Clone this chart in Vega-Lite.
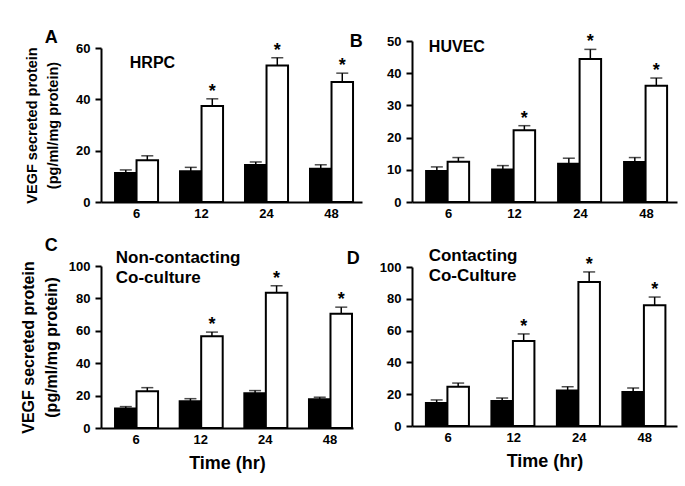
{
"$schema": "https://vega.github.io/schema/vega-lite/v6.json",
"padding": {"top": 28, "left": 20, "right": 5, "bottom": 5},
"background": "white",
"config": {
  "font": "Liberation Sans",
  "view": {"stroke": null},
  "axisY": {"domainColor": "black", "domainWidth": 2, "tickColor": "black", "tickWidth": 2, "tickSize": 6, "labelFontSize": 13, "labelFontWeight": "bold", "labelColor": "black", "labelPadding": 5, "labelOverlap": false, "labelFlush": false, "grid": false, "titleFontWeight": "bold", "titleColor": "black"},
  "axisX": {"domainColor": "black", "domainWidth": 2, "ticks": false, "labelFontSize": 13, "labelFontWeight": "bold", "labelColor": "black", "labelPadding": 5, "labelAngle": 0, "grid": false, "titleFontWeight": "bold", "titleColor": "black", "titleFontSize": 18, "titlePadding": 8}
},
"datasets": {
  "vegf": [
    {"panel": "A", "time": "6", "group": "ctrl", "value": 11.3, "err": 12.5, "star": ""},
    {"panel": "A", "time": "6", "group": "trt", "value": 16.3, "err": 18.0, "star": ""},
    {"panel": "A", "time": "12", "group": "ctrl", "value": 12.0, "err": 13.5, "star": ""},
    {"panel": "A", "time": "12", "group": "trt", "value": 37.4, "err": 40.2, "star": "*"},
    {"panel": "A", "time": "24", "group": "ctrl", "value": 14.4, "err": 15.6, "star": ""},
    {"panel": "A", "time": "24", "group": "trt", "value": 53.2, "err": 56.2, "star": "*"},
    {"panel": "A", "time": "48", "group": "ctrl", "value": 13.0, "err": 14.5, "star": ""},
    {"panel": "A", "time": "48", "group": "trt", "value": 46.8, "err": 50.2, "star": "*"},
    {"panel": "B", "time": "6", "group": "ctrl", "value": 9.6, "err": 10.9, "star": ""},
    {"panel": "B", "time": "6", "group": "trt", "value": 12.5, "err": 13.8, "star": ""},
    {"panel": "B", "time": "12", "group": "ctrl", "value": 10.1, "err": 11.3, "star": ""},
    {"panel": "B", "time": "12", "group": "trt", "value": 22.3, "err": 23.7, "star": "*"},
    {"panel": "B", "time": "24", "group": "ctrl", "value": 11.9, "err": 13.6, "star": ""},
    {"panel": "B", "time": "24", "group": "trt", "value": 44.4, "err": 47.4, "star": "*"},
    {"panel": "B", "time": "48", "group": "ctrl", "value": 12.4, "err": 13.8, "star": ""},
    {"panel": "B", "time": "48", "group": "trt", "value": 36.1, "err": 38.5, "star": "*"},
    {"panel": "C", "time": "6", "group": "ctrl", "value": 12.0, "err": 13.2, "star": ""},
    {"panel": "C", "time": "6", "group": "trt", "value": 22.7, "err": 24.9, "star": ""},
    {"panel": "C", "time": "12", "group": "ctrl", "value": 16.5, "err": 18.1, "star": ""},
    {"panel": "C", "time": "12", "group": "trt", "value": 56.7, "err": 59.2, "star": "*"},
    {"panel": "C", "time": "24", "group": "ctrl", "value": 21.4, "err": 23.1, "star": ""},
    {"panel": "C", "time": "24", "group": "trt", "value": 83.5, "err": 87.8, "star": "*"},
    {"panel": "C", "time": "48", "group": "ctrl", "value": 17.7, "err": 19.0, "star": ""},
    {"panel": "C", "time": "48", "group": "trt", "value": 70.5, "err": 74.6, "star": "*"},
    {"panel": "D", "time": "6", "group": "ctrl", "value": 14.5, "err": 16.4, "star": ""},
    {"panel": "D", "time": "6", "group": "trt", "value": 24.7, "err": 27.0, "star": ""},
    {"panel": "D", "time": "12", "group": "ctrl", "value": 15.7, "err": 17.6, "star": ""},
    {"panel": "D", "time": "12", "group": "trt", "value": 53.5, "err": 57.9, "star": "*"},
    {"panel": "D", "time": "24", "group": "ctrl", "value": 22.4, "err": 24.7, "star": ""},
    {"panel": "D", "time": "24", "group": "trt", "value": 90.6, "err": 96.9, "star": "*"},
    {"panel": "D", "time": "48", "group": "ctrl", "value": 21.4, "err": 23.9, "star": ""},
    {"panel": "D", "time": "48", "group": "trt", "value": 75.9, "err": 81.1, "star": "*"}
  ]
},
"data": {"name": "vegf"},
"hconcat": [
  {"vconcat": [
    {
      "width": 261, "height": 161,
      "transform": [{"filter": "datum.panel === 'A'"}],
      "encoding": {
        "x": {"field": "time", "type": "ordinal", "sort": ["6", "12", "24", "48"], "scale": {"paddingInner": 0.338, "paddingOuter": 0.177, "align": 0.61}, "axis": {"title": null}},
        "xOffset": {"field": "group", "type": "nominal", "sort": ["ctrl", "trt"], "scale": {"paddingInner": 0, "paddingOuter": 0}}
      },
      "layer": [
        {"mark": {"type": "bar", "stroke": "black", "strokeWidth": 2},
         "encoding": {
           "y": {"field": "value", "type": "quantitative", "scale": {"domain": [0, 60], "range": [161, 7]}, "axis": {"values": [0, 20, 40, 60], "tickCount": 4, "labelOverlap": false, "title": ["VEGF secreted protein", "(pg/ml/mg protein)"], "titleFontSize": 14.5, "titleLineHeight": 21, "titlePadding": 15}},
           "fill": {"field": "group", "type": "nominal", "scale": {"domain": ["ctrl", "trt"], "range": ["black", "white"]}, "legend": null}}},
        {"mark": {"type": "rule", "strokeWidth": 1.5, "color": "black"},
         "encoding": {"y": {"field": "value", "type": "quantitative", "axis": {"values": [0, 20, 40, 60], "tickCount": 4, "labelOverlap": false, "title": ["VEGF secreted protein", "(pg/ml/mg protein)"], "titleFontSize": 14.5, "titleLineHeight": 21, "titlePadding": 15}}, "y2": {"field": "err"}}},
        {"mark": {"type": "tick", "thickness": 1.5, "size": 12, "orient": "horizontal", "color": "black"},
         "encoding": {"y": {"field": "err", "type": "quantitative", "axis": {"values": [0, 20, 40, 60], "tickCount": 4, "labelOverlap": false, "title": ["VEGF secreted protein", "(pg/ml/mg protein)"], "titleFontSize": 14.5, "titleLineHeight": 21, "titlePadding": 15}}}},
        {"mark": {"type": "text", "fontSize": 18, "fontWeight": "bold", "baseline": "alphabetic", "dy": -2, "color": "black"},
         "encoding": {"y": {"field": "err", "type": "quantitative", "axis": {"values": [0, 20, 40, 60], "tickCount": 4, "labelOverlap": false, "title": ["VEGF secreted protein", "(pg/ml/mg protein)"], "titleFontSize": 14.5, "titleLineHeight": 21, "titlePadding": 15}}, "text": {"field": "star"}}},
        {"transform": [{"filter": "datum.time === '6' && datum.group === 'ctrl'"}],
         "mark": {"type": "text", "text": "HRPC", "fontSize": 16, "fontWeight": "bold", "align": "left", "baseline": "alphabetic", "dx": 4, "color": "black"},
         "encoding": {"y": {"datum": 52.3, "type": "quantitative", "axis": {"values": [0, 20, 40, 60], "tickCount": 4, "labelOverlap": false, "title": ["VEGF secreted protein", "(pg/ml/mg protein)"], "titleFontSize": 14.5, "titleLineHeight": 21, "titlePadding": 15}}}},
        {"transform": [{"filter": "datum.time === '6' && datum.group === 'ctrl'"}],
         "mark": {"type": "text", "text": "A", "fontSize": 18, "fontWeight": "bold", "align": "left", "baseline": "alphabetic", "dx": -81, "color": "black"},
         "encoding": {"y": {"datum": 62.1, "type": "quantitative", "axis": {"values": [0, 20, 40, 60], "tickCount": 4, "labelOverlap": false, "title": ["VEGF secreted protein", "(pg/ml/mg protein)"], "titleFontSize": 14.5, "titleLineHeight": 21, "titlePadding": 15}}}}
      ]
    },
    {
      "width": 252, "height": 162,
      "transform": [{"filter": "datum.panel === 'C'"}],
      "encoding": {
        "x": {"field": "time", "type": "ordinal", "sort": ["6", "12", "24", "48"], "scale": {"paddingInner": 0.35, "paddingOuter": 0.124, "align": 0.875}, "axis": {"title": "Time (hr)"}},
        "xOffset": {"field": "group", "type": "nominal", "sort": ["ctrl", "trt"], "scale": {"paddingInner": 0, "paddingOuter": 0}}
      },
      "layer": [
        {"mark": {"type": "bar", "stroke": "black", "strokeWidth": 2},
         "encoding": {
           "y": {"field": "value", "type": "quantitative", "scale": {"domain": [0, 100]}, "axis": {"values": [0, 20, 40, 60, 80, 100], "tickCount": 6, "labelOverlap": false, "title": ["VEGF secreted protein", "(pg/ml/mg protein)"], "titleFontSize": 16, "titleLineHeight": 23, "titlePadding": 9}},
           "fill": {"field": "group", "type": "nominal", "scale": {"domain": ["ctrl", "trt"], "range": ["black", "white"]}, "legend": null}}},
        {"mark": {"type": "rule", "strokeWidth": 1.5, "color": "black"},
         "encoding": {"y": {"field": "value", "type": "quantitative", "axis": {"values": [0, 20, 40, 60, 80, 100], "tickCount": 6, "labelOverlap": false, "title": ["VEGF secreted protein", "(pg/ml/mg protein)"], "titleFontSize": 16, "titleLineHeight": 23, "titlePadding": 9}}, "y2": {"field": "err"}}},
        {"mark": {"type": "tick", "thickness": 1.5, "size": 12, "orient": "horizontal", "color": "black"},
         "encoding": {"y": {"field": "err", "type": "quantitative", "axis": {"values": [0, 20, 40, 60, 80, 100], "tickCount": 6, "labelOverlap": false, "title": ["VEGF secreted protein", "(pg/ml/mg protein)"], "titleFontSize": 16, "titleLineHeight": 23, "titlePadding": 9}}}},
        {"mark": {"type": "text", "fontSize": 18, "fontWeight": "bold", "baseline": "alphabetic", "dy": -2, "color": "black"},
         "encoding": {"y": {"field": "err", "type": "quantitative", "axis": {"values": [0, 20, 40, 60, 80, 100], "tickCount": 6, "labelOverlap": false, "title": ["VEGF secreted protein", "(pg/ml/mg protein)"], "titleFontSize": 16, "titleLineHeight": 23, "titlePadding": 9}}, "text": {"field": "star"}}},
        {"transform": [{"filter": "datum.time === '6' && datum.group === 'ctrl'"}],
         "mark": {"type": "text", "text": ["Non-contacting", "Co-culture"], "lineHeight": 20, "fontSize": 17, "fontWeight": "bold", "align": "left", "baseline": "alphabetic", "dx": -10, "color": "black"},
         "encoding": {"y": {"datum": 102, "type": "quantitative", "axis": {"values": [0, 20, 40, 60, 80, 100], "tickCount": 6, "labelOverlap": false, "title": ["VEGF secreted protein", "(pg/ml/mg protein)"], "titleFontSize": 16, "titleLineHeight": 23, "titlePadding": 9}}}},
        {"transform": [{"filter": "datum.time === '6' && datum.group === 'ctrl'"}],
         "mark": {"type": "text", "text": "C", "fontSize": 18, "fontWeight": "bold", "align": "left", "baseline": "alphabetic", "dx": -81, "color": "black"},
         "encoding": {"y": {"datum": 109.3, "type": "quantitative", "axis": {"values": [0, 20, 40, 60, 80, 100], "tickCount": 6, "labelOverlap": false, "title": ["VEGF secreted protein", "(pg/ml/mg protein)"], "titleFontSize": 16, "titleLineHeight": 23, "titlePadding": 9}}}}
      ]
    }
  ], "spacing": 16},
  {"vconcat": [
    {
      "width": 265, "height": 161,
      "transform": [{"filter": "datum.panel === 'B'"}],
      "encoding": {
        "x": {"field": "time", "type": "ordinal", "sort": ["6", "12", "24", "48"], "scale": {"paddingInner": 0.318, "paddingOuter": 0.167, "align": 0.64}, "axis": {"title": null}},
        "xOffset": {"field": "group", "type": "nominal", "sort": ["ctrl", "trt"], "scale": {"paddingInner": 0, "paddingOuter": 0}}
      },
      "layer": [
        {"mark": {"type": "bar", "stroke": "black", "strokeWidth": 2},
         "encoding": {
           "y": {"field": "value", "type": "quantitative", "scale": {"domain": [0, 50]}, "axis": {"values": [0, 10, 20, 30, 40, 50], "tickCount": 6, "labelOverlap": false, "title": null}},
           "fill": {"field": "group", "type": "nominal", "scale": {"domain": ["ctrl", "trt"], "range": ["black", "white"]}, "legend": null}}},
        {"mark": {"type": "rule", "strokeWidth": 1.5, "color": "black"},
         "encoding": {"y": {"field": "value", "type": "quantitative", "axis": {"values": [0, 10, 20, 30, 40, 50], "tickCount": 6, "labelOverlap": false, "title": null}}, "y2": {"field": "err"}}},
        {"mark": {"type": "tick", "thickness": 1.5, "size": 12, "orient": "horizontal", "color": "black"},
         "encoding": {"y": {"field": "err", "type": "quantitative", "axis": {"values": [0, 10, 20, 30, 40, 50], "tickCount": 6, "labelOverlap": false, "title": null}}}},
        {"mark": {"type": "text", "fontSize": 18, "fontWeight": "bold", "baseline": "alphabetic", "dy": -2, "color": "black"},
         "encoding": {"y": {"field": "err", "type": "quantitative", "axis": {"values": [0, 10, 20, 30, 40, 50], "tickCount": 6, "labelOverlap": false, "title": null}}, "text": {"field": "star"}}},
        {"transform": [{"filter": "datum.time === '6' && datum.group === 'ctrl'"}],
         "mark": {"type": "text", "text": "HUVEC", "fontSize": 16, "fontWeight": "bold", "align": "left", "baseline": "alphabetic", "dx": -8, "color": "black"},
         "encoding": {"y": {"datum": 46.7, "type": "quantitative", "axis": {"values": [0, 10, 20, 30, 40, 50], "tickCount": 6, "labelOverlap": false, "title": null}}}},
        {"transform": [{"filter": "datum.time === '6' && datum.group === 'ctrl'"}],
         "mark": {"type": "text", "text": "B", "fontSize": 18, "fontWeight": "bold", "align": "left", "baseline": "alphabetic", "dx": -87, "color": "black"},
         "encoding": {"y": {"datum": 48.2, "type": "quantitative", "axis": {"values": [0, 10, 20, 30, 40, 50], "tickCount": 6, "labelOverlap": false, "title": null}}}}
      ]
    },
    {
      "width": 265, "height": 159,
      "transform": [{"filter": "datum.panel === 'D'"}],
      "encoding": {
        "x": {"field": "time", "type": "ordinal", "sort": ["6", "12", "24", "48"], "scale": {"paddingInner": 0.32, "paddingOuter": 0.183, "align": 0.58}, "axis": {"title": "Time (hr)"}},
        "xOffset": {"field": "group", "type": "nominal", "sort": ["ctrl", "trt"], "scale": {"paddingInner": 0, "paddingOuter": 0}}
      },
      "layer": [
        {"mark": {"type": "bar", "stroke": "black", "strokeWidth": 2},
         "encoding": {
           "y": {"field": "value", "type": "quantitative", "scale": {"domain": [0, 100]}, "axis": {"values": [0, 20, 40, 60, 80, 100], "tickCount": 6, "labelOverlap": false, "title": null}},
           "fill": {"field": "group", "type": "nominal", "scale": {"domain": ["ctrl", "trt"], "range": ["black", "white"]}, "legend": null}}},
        {"mark": {"type": "rule", "strokeWidth": 1.5, "color": "black"},
         "encoding": {"y": {"field": "value", "type": "quantitative", "axis": {"values": [0, 20, 40, 60, 80, 100], "tickCount": 6, "labelOverlap": false, "title": null}}, "y2": {"field": "err"}}},
        {"mark": {"type": "tick", "thickness": 1.5, "size": 12, "orient": "horizontal", "color": "black"},
         "encoding": {"y": {"field": "err", "type": "quantitative", "axis": {"values": [0, 20, 40, 60, 80, 100], "tickCount": 6, "labelOverlap": false, "title": null}}}},
        {"mark": {"type": "text", "fontSize": 18, "fontWeight": "bold", "baseline": "alphabetic", "dy": -2, "color": "black"},
         "encoding": {"y": {"field": "err", "type": "quantitative", "axis": {"values": [0, 20, 40, 60, 80, 100], "tickCount": 6, "labelOverlap": false, "title": null}}, "text": {"field": "star"}}},
        {"transform": [{"filter": "datum.time === '6' && datum.group === 'ctrl'"}],
         "mark": {"type": "text", "text": ["Contacting", "Co-Culture"], "lineHeight": 20, "fontSize": 17, "fontWeight": "bold", "align": "left", "baseline": "alphabetic", "dx": -8, "color": "black"},
         "encoding": {"y": {"datum": 103.5, "type": "quantitative", "axis": {"values": [0, 20, 40, 60, 80, 100], "tickCount": 6, "labelOverlap": false, "title": null}}}},
        {"transform": [{"filter": "datum.time === '6' && datum.group === 'ctrl'"}],
         "mark": {"type": "text", "text": "D", "fontSize": 18, "fontWeight": "bold", "align": "left", "baseline": "alphabetic", "dx": -90, "color": "black"},
         "encoding": {"y": {"datum": 102.1, "type": "quantitative", "axis": {"values": [0, 20, 40, 60, 80, 100], "tickCount": 6, "labelOverlap": false, "title": null}}}}
      ]
    }
  ], "spacing": 27}
],
"spacing": -16
}
